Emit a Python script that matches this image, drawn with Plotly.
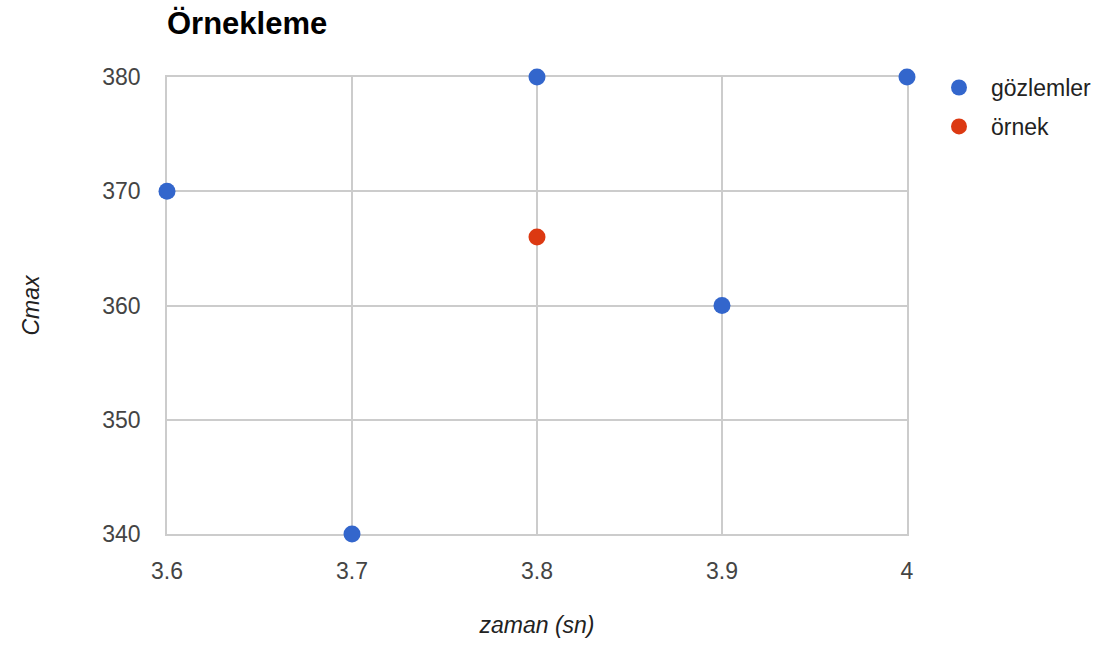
import plotly.graph_objects as go

# Observations and the sampled point
zaman_gozlem = [3.6, 3.7, 3.8, 3.9, 4.0]
cmax_gozlem = [370, 340, 380, 360, 380]
zaman_ornek = [3.8]
cmax_ornek = [366]

x_ticks = [3.6, 3.7, 3.8, 3.9, 4.0]
x_tick_text = ["3.6", "3.7", "3.8", "3.9", "4"]
y_ticks = [340, 350, 360, 370, 380]

FONT = "Liberation Sans, Arial, sans-serif"

fig = go.Figure()
fig.add_trace(go.Scatter(
    x=zaman_gozlem, y=cmax_gozlem, mode="markers", name="gözlemler",
    marker=dict(color="#3366CC", size=17, line=dict(width=0)),
    cliponaxis=False, legendgroup="a",
))
fig.add_trace(go.Scatter(
    x=zaman_ornek, y=cmax_ornek, mode="markers", name="örnek",
    marker=dict(color="#DC3912", size=17, line=dict(width=0)),
    cliponaxis=False, legendgroup="b",
))

fig.update_layout(
    width=1112, height=646,
    margin=dict(l=167, r=205, t=77, b=112),
    paper_bgcolor="white", plot_bgcolor="white",
    font=dict(family=FONT, size=23, color="#444444"),
    title=dict(
        text="<b>Örnekleme</b>", font=dict(family=FONT, size=31, color="#000000"),
        x=167 / 1112, xanchor="left", xref="container",
        y=1 - 23 / 646, yanchor="middle", yref="container",
    ),
    legend=dict(
        x=1.0 + 20 / 740, xanchor="left", xref="paper", y=1.024, yanchor="top",
        font=dict(family=FONT, size=23, color="#222222"),
        tracegroupgap=6, traceorder="grouped", itemwidth=54,
        bgcolor="rgba(0,0,0,0)", itemsizing="trace",
    ),
    showlegend=True,
)

fig.update_xaxes(
    range=[3.6, 4.0], tickvals=x_ticks, ticktext=x_tick_text,
    showgrid=True, gridcolor="#CCCCCC", gridwidth=1.5, layer="below traces",
    zeroline=False, showline=True, mirror=True, linecolor="#CCCCCC", linewidth=1.5,
    ticks="outside", ticklen=16, tickcolor="rgba(0,0,0,0)",
    tickfont=dict(family=FONT, size=23, color="#444444"),
    title=dict(text="<i>zaman (sn)</i>", standoff=34,
               font=dict(family=FONT, size=23, color="#222222")),
)
fig.update_yaxes(
    range=[340, 380], tickvals=y_ticks,
    showgrid=True, gridcolor="#CCCCCC", gridwidth=1.5, layer="below traces",
    zeroline=False, showline=True, mirror=True, linecolor="#CCCCCC", linewidth=1.5,
    ticks="outside", ticklen=20, tickcolor="rgba(0,0,0,0)",
    tickfont=dict(family=FONT, size=23, color="#444444"),
    title=dict(text="<i>Cmax</i>", standoff=56,
               font=dict(family=FONT, size=23, color="#222222")),
)

fig.write_html("out.html")
